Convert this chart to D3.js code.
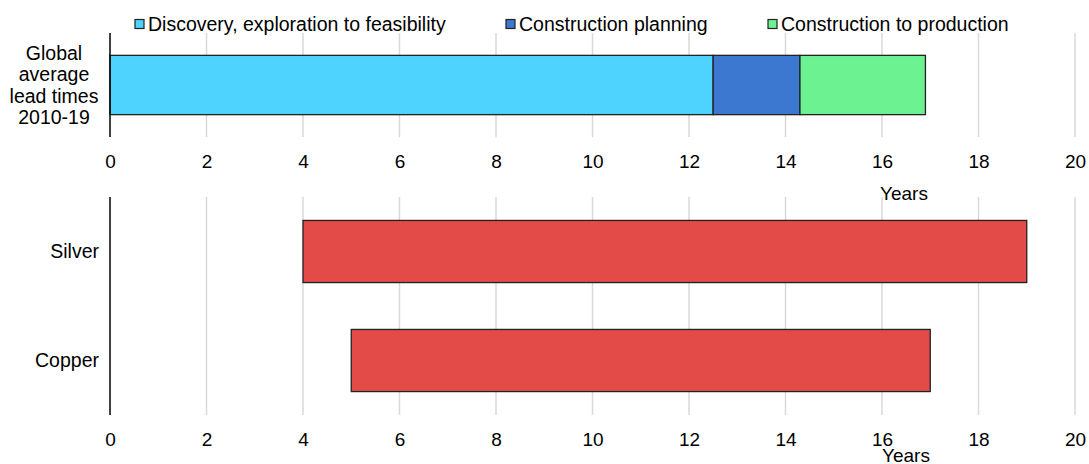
<!DOCTYPE html>
<html>
<head>
<meta charset="utf-8">
<script src="https://cdn.jsdelivr.net/npm/d3@7"></script>
<style>
  body { margin: 0; background: #fff; }
  text { font-family: "Liberation Sans", Arial, sans-serif; fill: #000; }
</style>
</head>
<body>
<svg width="1089" height="464"></svg>
<script>
// top panel: stacked phases of the global average lead time
var phases = ["Discovery, exploration to feasibility", "Construction planning", "Construction to production"];
var phaseYears = [12.5, 1.8, 2.6];
var phaseColors = ["#4dd3fe", "#3c78d0", "#6cf291"];
var topCategory = ["Global average lead times 2010-19"];
var topLabelLines = ["Global", "average", "lead times", "2010-19"];

// bottom panel: floating bars (start, end)
var metals = ["Silver", "Copper"];
var metalStart = [4, 5];
var metalEnd = [19, 17];

var xTicks = [0, 2, 4, 6, 8, 10, 12, 14, 16, 18, 20];

var svg = d3.select("svg"),
  left = 110, right = 1075,
  fontSize = 19.5,
  tickSize = 19;

var x = d3.scaleLinear().domain([0, 20]).range([left, right]);

function grid(y0, y1) {
  svg.append("g")
    .selectAll("line")
    .data(xTicks.slice(1))
    .enter().append("line")
    .attr("x1", function(d) { return x(d); })
    .attr("x2", function(d) { return x(d); })
    .attr("y1", y0).attr("y2", y1)
    .attr("stroke", "#d9d9d9").attr("stroke-width", 1.5);
}

function xAxis(y, yearsX, yearsY) {
  var ax = svg.append("g")
    .attr("transform", "translate(0," + y + ")")
    .call(d3.axisBottom(x).tickValues(xTicks).tickSize(0).tickPadding(0));
  ax.select(".domain").remove();
  ax.selectAll("text")
    .attr("dy", "0.35em")
    .style("font-size", tickSize + "px")
    .style("font-family", "'Liberation Sans', Arial, sans-serif")
    .attr("fill", "#000");
  svg.append("text")
    .attr("x", yearsX).attr("y", yearsY)
    .attr("text-anchor", "middle")
    .style("font-size", tickSize + "px")
    .text("Years");
}

// ---- top panel
var yTop = d3.scaleBand().domain(topCategory).range([33, 137]).paddingInner(0.43).paddingOuter(0.21);
grid(33, 137);

var stack = [];
var acc = 0;
phaseYears.forEach(function(v, i) {
  stack.push({name: phases[i], x0: acc, x1: acc + v, color: phaseColors[i]});
  acc += v;
});

svg.append("g")
  .selectAll("rect")
  .data(stack)
  .enter().append("rect")
  .attr("x", function(d) { return x(d.x0); })
  .attr("width", function(d) { return x(d.x1) - x(d.x0); })
  .attr("y", yTop(topCategory[0]))
  .attr("height", yTop.bandwidth())
  .attr("fill", function(d) { return d.color; })
  .attr("stroke", "#222").attr("stroke-width", 1.3);

svg.append("line")
  .attr("x1", left).attr("x2", left).attr("y1", 33).attr("y2", 137)
  .attr("stroke", "#000").attr("stroke-width", 1.5);

var cy = yTop(topCategory[0]) + yTop.bandwidth() / 2;
svg.append("text")
  .attr("text-anchor", "middle")
  .style("font-size", fontSize + "px")
  .selectAll("tspan")
  .data(topLabelLines)
  .enter().append("tspan")
  .attr("x", 54)
  .attr("y", function(d, i) { return cy + (i - (topLabelLines.length - 1) / 2) * 21.5; })
  .attr("dy", "0.35em")
  .text(function(d) { return d; });

xAxis(161, 904, 200);

// legend
var legendX = [135, 506, 768];
var lg = svg.append("g")
  .selectAll("g")
  .data(phases)
  .enter().append("g")
  .attr("transform", function(d, i) { return "translate(" + legendX[i] + ",24)"; });
lg.append("rect")
  .attr("x", 0).attr("y", -4.5).attr("width", 9).attr("height", 9)
  .attr("fill", function(d, i) { return phaseColors[i]; })
  .attr("stroke", "#222").attr("stroke-width", 1.2);
lg.append("text")
  .attr("x", 13).attr("dy", "0.35em")
  .style("font-size", fontSize + "px")
  .text(function(d) { return d; });

// ---- bottom panel
var yBot = d3.scaleBand().domain(metals).range([197, 415]).paddingInner(0.43).paddingOuter(0.215);
grid(197, 415);

svg.append("g")
  .selectAll("rect")
  .data(metals)
  .enter().append("rect")
  .attr("x", function(d, i) { return x(metalStart[i]); })
  .attr("width", function(d, i) { return x(metalEnd[i]) - x(metalStart[i]); })
  .attr("y", function(d) { return yBot(d); })
  .attr("height", yBot.bandwidth())
  .attr("fill", "#e24b48")
  .attr("stroke", "#222").attr("stroke-width", 1.3);

svg.append("line")
  .attr("x1", left).attr("x2", left).attr("y1", 197).attr("y2", 415)
  .attr("stroke", "#000").attr("stroke-width", 1.5);

svg.append("g")
  .selectAll("text")
  .data(metals)
  .enter().append("text")
  .attr("x", 99)
  .attr("y", function(d) { return yBot(d) + yBot.bandwidth() / 2; })
  .attr("dy", "0.35em")
  .attr("text-anchor", "end")
  .style("font-size", fontSize + "px")
  .text(function(d) { return d; });

xAxis(439, 906, 462);
</script>
</body>
</html>
